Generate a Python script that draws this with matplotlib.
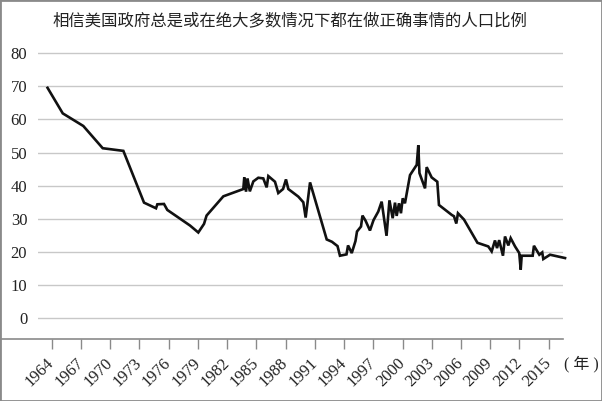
import numpy as np
import matplotlib
matplotlib.use('Agg')
import matplotlib.pyplot as plt
from matplotlib.lines import Line2D
from matplotlib.patches import Rectangle

# data (fractional years, percent)
years = [1963.57, 1965.13, 1967.24, 1969.23, 1971.35, 1973.47, 1974.70, 1974.84,
         1975.52, 1975.86, 1978.19, 1979.04, 1979.63, 1979.89, 1981.61, 1983.66,
         1983.76, 1983.94, 1984.09, 1984.33, 1984.69, 1985.20, 1985.71, 1986.06,
         1986.23, 1986.91, 1987.25, 1987.74, 1988.04, 1988.28, 1989.31, 1989.82,
         1990.06, 1990.51, 1992.22, 1992.76, 1993.33, 1993.58, 1994.25, 1994.41,
         1994.79, 1995.17, 1995.33, 1995.74, 1995.89, 1996.20, 1996.66, 1997.02,
         1997.51, 1997.86, 1998.36, 1998.66, 1998.99, 1999.23, 1999.40, 1999.64,
         1999.84, 2000.02, 2000.25, 2000.77, 2001.46, 2001.62, 2001.74, 2002.31,
         2002.48, 2002.99, 2003.57, 2003.74, 2005.05, 2005.28, 2005.52, 2005.69,
         2006.31, 2007.69, 2008.80, 2009.15, 2009.49, 2009.70, 2009.92, 2010.31,
         2010.52, 2010.86, 2011.10, 2011.55, 2011.98, 2012.13, 2012.23, 2013.36,
         2013.49, 2014.04, 2014.34, 2014.45, 2015.14, 2016.68]
trust = [69.5, 61.8, 58.0, 51.3, 50.5, 34.9, 33.2, 34.4,
         34.5, 32.7, 28.0, 25.9, 28.5, 31.0, 36.8, 39.0,
         42.5, 38.2, 42.2, 38.3, 41.3, 42.4, 42.2, 39.5,
         42.9, 41.2, 37.8, 39.0, 41.9, 39.0, 36.7, 35.0,
         30.4, 41.0, 23.8, 23.1, 21.8, 18.9, 19.3, 22.0,
         19.7, 23.3, 26.2, 27.7, 31.0, 29.5, 26.5, 29.6,
         32.2, 35.2, 24.9, 35.6, 30.2, 34.9, 30.9, 34.7,
         31.7, 36.2, 34.7, 43.2, 46.3, 52.2, 43.8, 39.2,
         45.6, 42.5, 41.2, 34.2, 31.2, 30.8, 28.6, 31.7,
         29.8, 22.8, 21.7, 20.2, 23.5, 21.2, 23.6, 18.9,
         24.7, 22.0, 24.2, 21.7, 19.7, 14.7, 18.9, 18.9,
         21.9, 19.2, 19.9, 17.9, 19.2, 18.2]
tick_years = list(range(1964, 2016, 3))
y_ticks = [0, 10, 20, 30, 40, 50, 60, 70, 80]
title = '相信美国政府总是或在绝大多数情况下都在做正确事情的人口比例'

plt.rcParams['font.family'] = ['Liberation Serif', 'Noto Sans CJK SC']

fig = plt.figure(figsize=(6.02, 4.01), dpi=100)
ax_left, ax_right = 38.3 / 602, 562.5 / 602
ax_bottom, ax_top = (401 - 339) / 401, (401 - 52) / 401
ax = fig.add_axes([ax_left, ax_bottom, ax_right - ax_left, ax_top - ax_bottom])

ax.plot(years, trust, color='#111111', linewidth=1.9, solid_joinstyle='miter', clip_on=False, zorder=3)

ax.set_xlim(1962.62, 2016.42)
ax.set_ylim(-6.2, 80.3)
ax.set_yticks(y_ticks)
ax.set_yticklabels([str(v) for v in y_ticks], fontsize=12, color='#222222')
ax.yaxis.grid(True, color='#c8c8c8', linewidth=1.0)
ax.set_axisbelow(True)
ax.tick_params(axis='y', length=0, pad=8)

ax.set_xticks(tick_years)
ax.set_xticklabels([str(y) for y in tick_years], fontsize=12, color='#222222',
                   rotation=45, ha='right', va='center', rotation_mode='anchor')
ax.tick_params(axis='x', direction='out', length=7.5, width=1.0, color='#8a8a8a', pad=8)

for s in ax.spines.values():
    s.set_visible(False)

# x axis line runs out to the left edge
fig.add_artist(Line2D([0.003, ax_right], [ax_bottom, ax_bottom], transform=fig.transFigure,
                      color='#8a8a8a', linewidth=1.2))

fig.text(ax_right + 0.002, (401 - 364) / 401, '( 年 )', fontsize=11.5, color='#222222',
         family=['Liberation Serif', 'Noto Sans CJK SC'], ha='left', va='center')
fig.text(290 / 602, 1 - 21 / 401, title, fontsize=11.8, color='#222222',
         family=['Noto Sans CJK SC'], ha='center', va='center')

# frame round the picture
fig.add_artist(Rectangle((0, 0), 1, 1, transform=fig.transFigure, fill=False,
                         edgecolor='#8a8a8a', linewidth=2.0))

fig.savefig('out.png', dpi=100)
